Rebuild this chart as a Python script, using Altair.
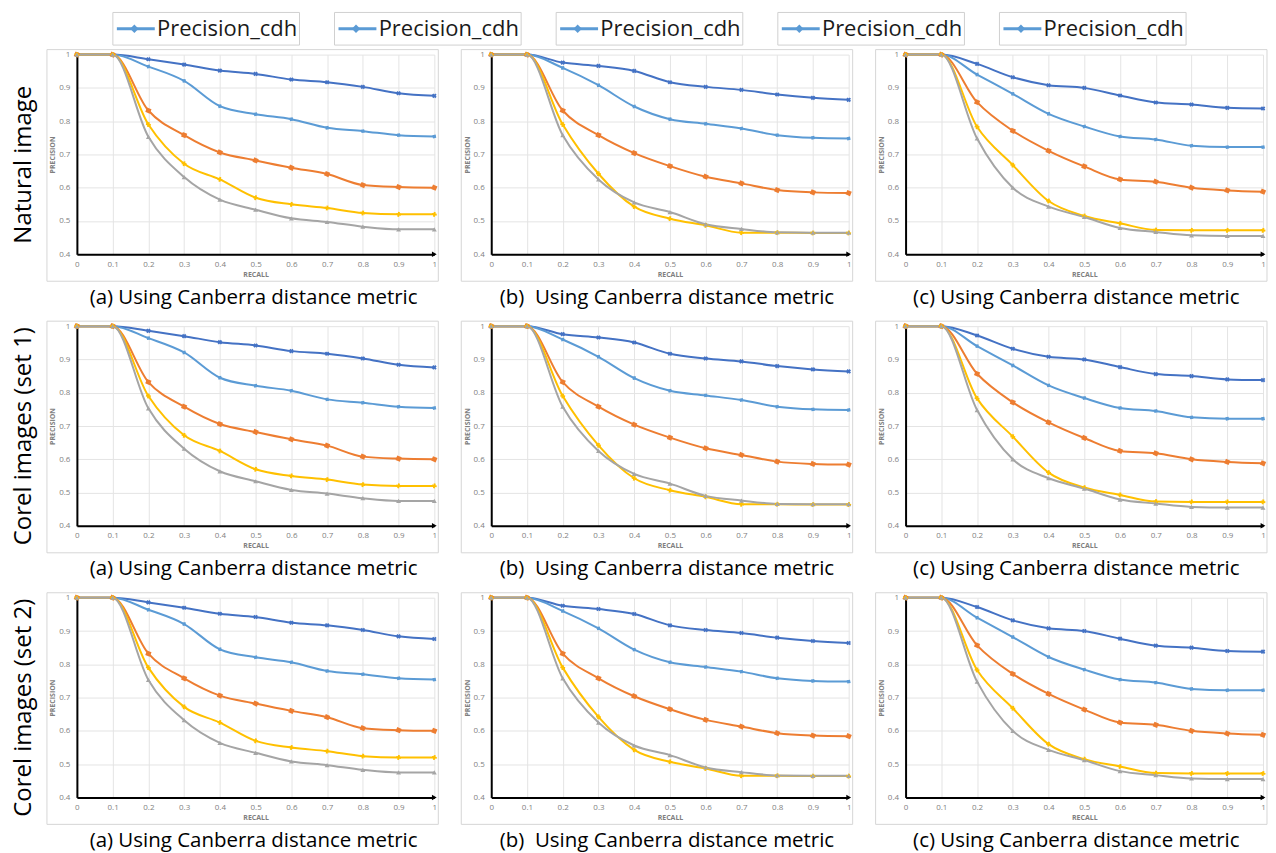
import altair as alt
import pandas as pd

# ---------------- data ----------------
RECALL = [0.0, 0.1, 0.2, 0.3, 0.4, 0.5, 0.6, 0.7, 0.8, 0.9, 1.0]
SERIES = ["Series 1", "Series 2", "Series 3", "Series 4", "Series 5"]

# panel (a)
A_S1 = [1, 1, 0.986, 0.970, 0.952, 0.942, 0.925, 0.917, 0.903, 0.884, 0.876]
A_S2 = [1, 1, 0.964, 0.921, 0.845, 0.821, 0.806, 0.780, 0.770, 0.758, 0.754]
A_S3 = [1, 1, 0.832, 0.758, 0.706, 0.682, 0.660, 0.641, 0.608, 0.602, 0.600]
A_S4 = [1, 1, 0.790, 0.672, 0.625, 0.570, 0.550, 0.539, 0.524, 0.520, 0.520]
A_S5 = [1, 1, 0.753, 0.632, 0.564, 0.534, 0.508, 0.497, 0.483, 0.475, 0.475]

# panel (b)
B_S1 = [1, 1, 0.976, 0.966, 0.951, 0.917, 0.903, 0.894, 0.880, 0.870, 0.864]
B_S2 = [1, 1, 0.960, 0.908, 0.844, 0.806, 0.792, 0.778, 0.758, 0.750, 0.748]
B_S3 = [1, 1, 0.832, 0.758, 0.704, 0.665, 0.633, 0.613, 0.593, 0.586, 0.584]
B_S4 = [1, 1, 0.790, 0.642, 0.543, 0.507, 0.487, 0.465, 0.465, 0.464, 0.464]
B_S5 = [1, 1, 0.758, 0.625, 0.556, 0.527, 0.490, 0.476, 0.466, 0.465, 0.465]

# panel (c)
C_S1 = [1, 1, 0.972, 0.932, 0.908, 0.900, 0.877, 0.856, 0.850, 0.840, 0.838]
C_S2 = [1, 1, 0.940, 0.882, 0.822, 0.784, 0.754, 0.745, 0.726, 0.722, 0.722]
C_S3 = [1, 1, 0.857, 0.771, 0.711, 0.664, 0.625, 0.618, 0.600, 0.592, 0.588]
C_S4 = [1, 1, 0.783, 0.668, 0.560, 0.515, 0.493, 0.473, 0.472, 0.472, 0.472]
C_S5 = [1, 1, 0.748, 0.600, 0.543, 0.512, 0.479, 0.467, 0.457, 0.455, 0.455]

X_TICKS = [0, 0.1, 0.2, 0.3, 0.4, 0.5, 0.6, 0.7, 0.8, 0.9, 1]
Y_TICKS = [0.4, 0.5, 0.6, 0.7, 0.8, 0.9, 1]

ROW_LABELS = ["Natural image", "Corel images (set 1)", "Corel images (set 2)"]
CAPTIONS = ["(a) Using Canberra distance metric",
            "(b)\u00a0 Using Canberra distance metric",
            "(c) Using Canberra distance metric"]
LEGEND_LABELS = ["Precision_cdh"] * 5

# ---------------- styles ----------------
COLORS = ["#4472C4", "#5B9BD5", "#ED7D31", "#FFC000", "#A5A5A5"]
SHAPES = ["cross", "diamond", "square", "cross", "triangle-up"]
ANGLES = [45, 0, 0, 45, 0]
SIZES = [22, 24, 32, 24, 24]
FONT = "Open Sans"
NOVIEW = alt.ViewBackground(strokeWidth=0, stroke="transparent")

PW, PH = 358, 200
PX_PER_Y = PH / 0.6
FRAME = pd.DataFrame({
    "fx0": [-30 / PW], "fx1": [1 + 4 / PW],
    "fy0": [0.4 - 27 / PX_PER_Y], "fy1": [1 + 5 / PX_PER_Y],
})
ARROW = pd.DataFrame({"ax": [1.0], "ay": [0.4]})

xscale = alt.Scale(domain=[0, 1], nice=False, zero=False)
yscale = alt.Scale(domain=[0.4, 1], nice=False, zero=False)

xaxis = alt.Axis(values=X_TICKS, format="~g", grid=True, gridColor="#e4e4e4",
                 domainColor="black", domainWidth=2, ticks=False,
                 labelColor="#7f7f7f", labelFontSize=8, labelFont=FONT,
                 labelPadding=6, labelFlush=False,
                 title="RECALL", titleFontSize=7, titleFont=FONT,
                 titleFontWeight="bold", titleColor="#7f7f7f", titlePadding=2)
yaxis = alt.Axis(values=Y_TICKS, format="~g", grid=True, gridColor="#e4e4e4",
                 domainColor="black", domainWidth=2, ticks=False,
                 labelColor="#7f7f7f", labelFontSize=8, labelFont=FONT,
                 labelPadding=7, labelFlush=False,
                 title="PRECISION", titleFontSize=7, titleFont=FONT,
                 titleFontWeight="bold", titleColor="#7f7f7f", titlePadding=3)


def long_df(series_values):
    rows = []
    for name, vals in zip(SERIES, series_values):
        for r, p in zip(RECALL, vals):
            rows.append({"series": name, "recall": r, "precision": p})
    return pd.DataFrame(rows)


def panel(series_values, caption, dx):
    df = long_df(series_values)
    base = alt.Chart(df).encode(
        x=alt.X("recall:Q", scale=xscale, axis=xaxis),
        y=alt.Y("precision:Q", scale=yscale, axis=yaxis),
        color=alt.Color("series:N", scale=alt.Scale(domain=SERIES, range=COLORS), legend=None),
    )
    lines = base.mark_line(interpolate="monotone", strokeWidth=2)
    pts = base.mark_point(filled=True, opacity=1).encode(
        shape=alt.Shape("series:N", scale=alt.Scale(domain=SERIES, range=SHAPES), legend=None),
        angle=alt.Angle("series:N", scale=alt.Scale(domain=SERIES, range=ANGLES), legend=None),
        size=alt.Size("series:N", scale=alt.Scale(domain=SERIES, range=SIZES), legend=None),
    )
    frame = alt.Chart(FRAME).mark_rect(fillOpacity=0, stroke="#d6d6d6", strokeWidth=1).encode(
        x=alt.X("fx0:Q", scale=xscale, axis=xaxis), x2="fx1:Q",
        y=alt.Y("fy0:Q", scale=yscale, axis=yaxis), y2="fy1:Q",
    )
    arrow = alt.Chart(ARROW).mark_point(shape="triangle-right", filled=True, color="black",
                                        size=30, opacity=1).encode(
        x=alt.X("ax:Q", scale=xscale, axis=xaxis),
        y=alt.Y("ay:Q", scale=yscale, axis=yaxis),
    )
    return alt.layer(frame, lines, pts, arrow).properties(
        width=PW, height=PH, view=NOVIEW,
        title=alt.TitleParams(caption, orient="bottom", anchor="middle", fontSize=20.5,
                              font=FONT, fontWeight="normal", color="black",
                              offset=6, dx=dx),
    )


PANELS = [
    [A_S1, A_S2, A_S3, A_S4, A_S5],
    [B_S1, B_S2, B_S3, B_S4, B_S5],
    [C_S1, C_S2, C_S3, C_S4, C_S5],
]
DX = [-2, -3, -8]


def row(label):
    return alt.hconcat(
        *[panel(PANELS[i], CAPTIONS[i], DX[i]) for i in range(3)],
        spacing=21,
        title=alt.TitleParams(label, orient="left", anchor="middle", fontSize=24,
                              font=FONT, fontWeight="normal", color="black",
                              offset=10, dx=14),
    )


# ---------------- legend strip ----------------
# legend view is aligned with the first panel's plot origin
LW, LH = 1180, 38
PITCH = 222.0
lx0 = -129.5 / PITCH
lscale = alt.Scale(domain=[lx0, lx0 + LW / PITCH], nice=False, zero=False)
ly = alt.Scale(domain=[0, 1], nice=False, zero=False)
leg_df = pd.DataFrame({"i": list(range(len(LEGEND_LABELS))), "label": LEGEND_LABELS})
leg_base = alt.Chart(leg_df).transform_calculate(
    bl="datum.i - 0.421", br="datum.i + 0.421",
    ll="datum.i - 0.403", lr="datum.i - 0.232",
    mk="datum.i - 0.324", tx="datum.i - 0.222",
    by0="0.04", by1="0.9", my="0.47",
)
leg_box = leg_base.mark_rect(fillOpacity=0, stroke="#d0d0d0", strokeWidth=1).encode(
    x=alt.X("bl:Q", scale=lscale, axis=None), x2="br:Q",
    y=alt.Y("by0:Q", scale=ly, axis=None), y2="by1:Q",
)
leg_line = leg_base.mark_rule(color="#5B9BD5", strokeWidth=3).encode(
    x=alt.X("ll:Q", scale=lscale, axis=None), x2="lr:Q",
    y=alt.Y("my:Q", scale=ly, axis=None),
)
leg_mark = leg_base.mark_point(shape="diamond", filled=True, color="#5B9BD5",
                               size=70, opacity=1).encode(
    x=alt.X("mk:Q", scale=lscale, axis=None),
    y=alt.Y("my:Q", scale=ly, axis=None),
)
leg_text = leg_base.mark_text(align="left", baseline="middle", font=FONT, fontSize=22,
                              color="#1a1a1a").encode(
    x=alt.X("tx:Q", scale=lscale, axis=None),
    y=alt.Y("my:Q", scale=ly, axis=None),
    text="label:N",
)
legend = alt.layer(leg_box, leg_line, leg_mark, leg_text).properties(
    width=LW, height=LH, view=NOVIEW)

chart = alt.vconcat(
    legend,
    alt.vconcat(*[row(l) for l in ROW_LABELS], spacing=12),
    spacing=2,
).properties(
    padding={"left": 4, "top": 0, "right": 0, "bottom": 0},
).configure_view(strokeWidth=0).configure(font=FONT)

chart.save("out.html", embed_options={"renderer": "svg", "actions": False})
